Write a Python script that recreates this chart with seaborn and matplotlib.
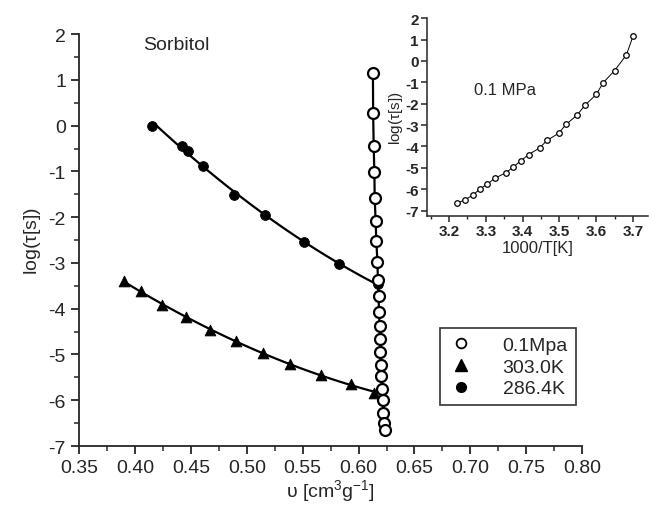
import numpy as np
import pandas as pd
import seaborn as sns
import matplotlib
matplotlib.use('Agg')
from matplotlib import pyplot as plt
from matplotlib.lines import Line2D
from matplotlib.ticker import MultipleLocator

# isobar 0.1 MPa: specific volume, 1000/T and log(tau)
v_iso = [0.6128, 0.6130, 0.6135, 0.6141, 0.6144, 0.6152, 0.6159, 0.6168, 0.6173, 0.6179, 0.6182,
         0.6188, 0.6191, 0.6195, 0.6197, 0.6204, 0.6209, 0.6215, 0.6222, 0.6227, 0.6233]
invT_iso = [3.700, 3.682, 3.650, 3.619, 3.600, 3.569, 3.548, 3.518, 3.498, 3.466, 3.446,
            3.416, 3.395, 3.375, 3.355, 3.325, 3.304, 3.284, 3.264, 3.243, 3.222]
logtau_iso = [1.15, 0.28, -0.45, -1.02, -1.57, -2.08, -2.53, -2.97, -3.38, -3.72, -4.07,
              -4.38, -4.67, -4.95, -5.22, -5.48, -5.75, -5.99, -6.28, -6.49, -6.65]

# isotherm 303.0 K
v_303 = [0.3901, 0.4051, 0.4245, 0.4454, 0.4670, 0.4903, 0.5142, 0.5387, 0.5665, 0.5935, 0.6137]
logtau_303 = [-3.39, -3.62, -3.92, -4.19, -4.46, -4.71, -4.97, -5.21, -5.44, -5.64, -5.85]

# isotherm 286.4 K
v_286 = [0.4155, 0.4424, 0.4478, 0.4610, 0.4888, 0.5163, 0.5507, 0.5823, 0.6177]
logtau_286 = [0.00, -0.44, -0.55, -0.88, -1.51, -1.95, -2.54, -3.03, -3.46]

# range covered by the fitted curves
fit_range_303 = [0.392, 0.614]
fit_range_286 = [0.4164, 0.6177]

legend_labels = ['0.1Mpa', '303.0K', '286.4K']

sns.set_style('ticks')
plt.rcParams['font.family'] = ['Liberation Sans', 'DejaVu Sans']
plt.rcParams['mathtext.fontset'] = 'custom'
plt.rcParams['mathtext.rm'] = 'Liberation Sans'
plt.rcParams['mathtext.it'] = 'Liberation Sans'
plt.rcParams['axes.unicode_minus'] = False
plt.rcParams['axes.linewidth'] = 1.3
plt.rcParams['xtick.major.width'] = 1.3
plt.rcParams['ytick.major.width'] = 1.3
plt.rcParams['xtick.minor.width'] = 1.1
plt.rcParams['ytick.minor.width'] = 1.1

fig = plt.figure(figsize=(6.49, 5.10), dpi=100)
ax = fig.add_axes([0.122, 0.1235, 0.775, 0.8075])

df_iso = pd.DataFrame({'v': v_iso, 'logtau': logtau_iso, 'invT': invT_iso})
df_303 = pd.DataFrame({'v': v_303, 'logtau': logtau_303})
df_286 = pd.DataFrame({'v': v_286, 'logtau': logtau_286})

# fitted curves
for df, rng in [(df_303, fit_range_303), (df_286, fit_range_286)]:
    coef = np.polyfit(df['v'], df['logtau'], 2)
    xs = np.linspace(rng[0], rng[1], 100)
    ax.plot(xs, np.polyval(coef, xs), color='black', lw=1.6, zorder=2)

ax.plot(df_iso['v'], df_iso['logtau'], color='black', lw=1.6, zorder=2)

sns.scatterplot(data=df_303, x='v', y='logtau', ax=ax, marker='^', s=60,
                color='black', edgecolor='black', zorder=3)
sns.scatterplot(data=df_286, x='v', y='logtau', ax=ax, marker='o', s=50,
                color='black', edgecolor='black', zorder=3)
ax.scatter(df_iso['v'], df_iso['logtau'], marker='o', s=62, facecolor='white',
           edgecolor='black', linewidths=1.6, zorder=4)

ax.set_xlim(0.35, 0.80)
ax.set_ylim(-7, 2)
ax.xaxis.set_major_locator(MultipleLocator(0.05))
ax.xaxis.set_minor_locator(MultipleLocator(0.025))
ax.yaxis.set_major_locator(MultipleLocator(1))
ax.yaxis.set_minor_locator(MultipleLocator(0.5))
ax.xaxis.set_major_formatter(matplotlib.ticker.FormatStrFormatter('%.2f'))
ax.tick_params(which='major', direction='out', length=6, labelsize=14)
ax.tick_params(which='minor', direction='out', length=3.5)
ax.set_xlabel(r'υ [cm$^{3}$g$^{-1}$]', fontsize=14, labelpad=1)
ax.set_ylabel(r'log($\tau$[s])', fontsize=14, labelpad=4)
sns.despine(ax=ax)

ax.text(0.4367, 1.78, 'Sorbitol', fontsize=14, ha='center', va='center')

handles = [
    Line2D([], [], ls='none', marker='o', ms=7, mfc='white', mec='black', mew=1.3),
    Line2D([], [], ls='none', marker='^', ms=8, mfc='black', mec='black'),
    Line2D([], [], ls='none', marker='o', ms=7, mfc='black', mec='black'),
]
leg = ax.legend(handles, legend_labels, loc='upper left', bbox_to_anchor=(0.718, 0.286),
                fontsize=14, frameon=True, fancybox=False, edgecolor='black',
                borderpad=0.4, handletextpad=1.5, labelspacing=0.22, handlelength=1.3,
                borderaxespad=0)
leg.get_frame().set_linewidth(1.2)

# inset: isobar in Arrhenius coordinates
axin = fig.add_axes([0.658, 0.5745, 0.34, 0.388])
axin.plot(df_iso['invT'], df_iso['logtau'], color='black', lw=0.7, zorder=2)
axin.scatter(df_iso['invT'], df_iso['logtau'], marker='o', s=16, facecolor='white',
             edgecolor='black', linewidths=0.9, zorder=3)
axin.set_xlim(3.14, 3.74)
axin.set_ylim(-7.25, 2)
axin.xaxis.set_major_locator(MultipleLocator(0.1))
axin.xaxis.set_minor_locator(MultipleLocator(0.05))
axin.set_yticks(np.arange(-7, 3, 1))
axin.tick_params(which='major', direction='out', length=4, labelsize=11, width=1.1, pad=2)
axin.tick_params(which='minor', direction='out', length=2.5, width=1.0)
for lab in axin.get_xticklabels() + axin.get_yticklabels():
    lab.set_fontweight('bold')
axin.set_xlabel('1000/T[K]', fontsize=12, labelpad=1)
axin.set_ylabel(r'log($\tau$[s])', fontsize=11, labelpad=0)
axin.text(3.351, -1.33, '0.1 MPa', fontsize=12, ha='center', va='center')
axin.patch.set_alpha(0)
sns.despine(ax=axin)
for sp in axin.spines.values():
    sp.set_linewidth(1.1)

fig.savefig('out.png', dpi=100)
